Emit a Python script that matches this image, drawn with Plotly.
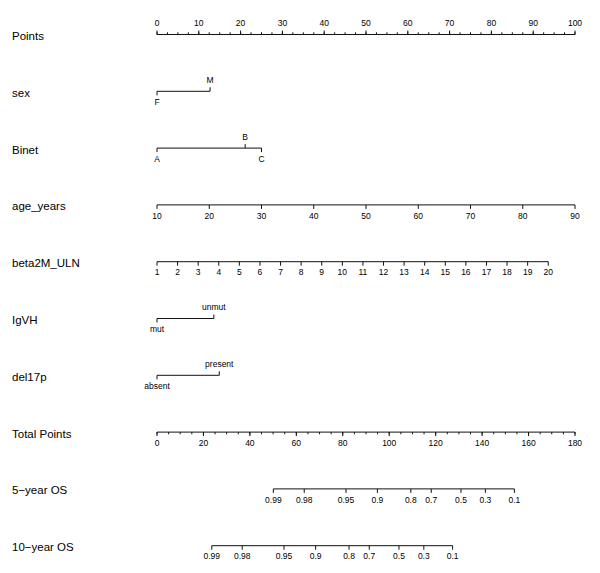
import plotly.graph_objects as go

# ---------------- data ----------------
points_ticks = list(range(0, 101, 10))
points_minor = [i * 2.5 for i in range(41)]

sex_levels = ["F", "M"]
sex_points = [0.0, 12.7]

binet_levels = ["A", "B", "C"]
binet_points = [0.0, 21.1, 25.0]

age_ticks = list(range(10, 91, 10))
age_min = 10
age_points_per_year = 100 / 80

beta2m_ticks = list(range(1, 21))
beta2m_min = 1
beta2m_points_per_unit = 93.6 / 19

igvh_levels = ["mut", "unmut"]
igvh_points = [0.0, 13.6]

del17p_levels = ["absent", "present"]
del17p_points = [0.0, 14.9]

total_ticks = list(range(0, 181, 20))
total_minor = list(range(0, 181, 5))
total_max = 180

os_labels = ["0.99", "0.98", "0.95", "0.9", "0.8", "0.7", "0.5", "0.3", "0.1"]
os5_total_points = [50.1, 63.4, 81.4, 94.9, 109.3, 118.1, 130.9, 141.4, 153.9]
os10_total_points = [23.6, 36.7, 54.7, 68.3, 82.7, 91.4, 104.2, 114.9, 127.3]

row_names = ["Points", "sex", "Binet", "age_years", "beta2M_ULN", "IgVH",
             "del17p", "Total Points", "5\u2212year OS", "10\u2212year OS"]

# ---------------- layout constants ----------------
W, H = 600, 573
X0_PX, PX_PER_PT = 157, 4.18
ROW0, ROW_STEP = 34.5, 56.8
row_y = [ROW0 + i * ROW_STEP for i in range(len(row_names))]
MAJOR, MINOR = 4, 2.2
LAB_OFF_BELOW, LAB_OFF_ABOVE = 11.5, 10.5
LINE_COLOR = "#111111"
TEXT_COLOR = "#000000"
FONT = "Liberation Sans, Arial, Helvetica, sans-serif"

fig = go.Figure()


def tot_to_pts(t):
    return t * 100 / total_max


def add_axis(xs, labels, sides, y, minor=None):
    """xs in Points units; sides: -1 label above, +1 label below."""
    all_x = list(xs) + (list(minor) if minor else [])
    lx, ly = [min(all_x), max(all_x), None], [y, y, None]
    for x, s in zip(xs, sides):
        lx += [x, x, None]
        ly += [y, y + s * MAJOR, None]
    if minor:
        s0 = sides[0]
        for x in minor:
            lx += [x, x, None]
            ly += [y, y + s0 * MINOR, None]
    fig.add_trace(go.Scatter(x=lx, y=ly, mode="lines",
                             line=dict(color=LINE_COLOR, width=1),
                             hoverinfo="skip", showlegend=False))
    ty = [y + (LAB_OFF_BELOW if s > 0 else -LAB_OFF_ABOVE) for s in sides]
    fig.add_trace(go.Scatter(x=list(xs), y=ty,
                             mode="text", text=list(labels),
                             textposition="middle center",
                             textfont=dict(family=FONT, size=8.5, color=TEXT_COLOR),
                             hoverinfo="skip", showlegend=False))


# Points
add_axis(points_ticks, [str(v) for v in points_ticks], [-1] * len(points_ticks),
         row_y[0], minor=points_minor)
# sex
add_axis(sex_points, sex_levels, [1, -1], row_y[1])
# Binet
add_axis(binet_points, binet_levels, [1, -1, 1], row_y[2])
# age
add_axis([(a - age_min) * age_points_per_year for a in age_ticks],
         [str(a) for a in age_ticks], [1] * len(age_ticks), row_y[3])
# beta2M
add_axis([(b - beta2m_min) * beta2m_points_per_unit for b in beta2m_ticks],
         [str(b) for b in beta2m_ticks], [1] * len(beta2m_ticks), row_y[4])
# IgVH
add_axis(igvh_points, igvh_levels, [1, -1], row_y[5])
# del17p
add_axis(del17p_points, del17p_levels, [1, -1], row_y[6])
# Total points
add_axis([tot_to_pts(t) for t in total_ticks], [str(t) for t in total_ticks],
         [1] * len(total_ticks), row_y[7],
         minor=[tot_to_pts(t) for t in total_minor])
# 5-year OS
add_axis([tot_to_pts(t) for t in os5_total_points], os_labels,
         [1] * len(os_labels), row_y[8])
# 10-year OS
add_axis([tot_to_pts(t) for t in os10_total_points], os_labels,
         [1] * len(os_labels), row_y[9])

annotations = [dict(x=10 / W, xref="paper", y=yv + 1.5, yref="y", text=name,
                    showarrow=False, xanchor="left", yanchor="middle",
                    font=dict(family=FONT, size=11.5, color=TEXT_COLOR))
               for name, yv in zip(row_names, row_y)]

fig.update_layout(
    width=W, height=H,
    margin=dict(l=0, r=0, t=0, b=0),
    paper_bgcolor="white", plot_bgcolor="white",
    xaxis=dict(range=[-X0_PX / PX_PER_PT, (W - X0_PX) / PX_PER_PT],
               visible=False, fixedrange=True),
    yaxis=dict(range=[H, 0], visible=False, fixedrange=True),
    annotations=annotations,
    showlegend=False,
)

fig.write_html("out.html", config={"displayModeBar": False})

# remove the browser's default 8px body margin so the figure fills the window
with open("out.html", "r", encoding="utf-8") as f:
    html = f.read()
html = html.replace("<body>", '<body style="margin:0;padding:0;overflow:hidden">', 1)
with open("out.html", "w", encoding="utf-8") as f:
    f.write(html)
